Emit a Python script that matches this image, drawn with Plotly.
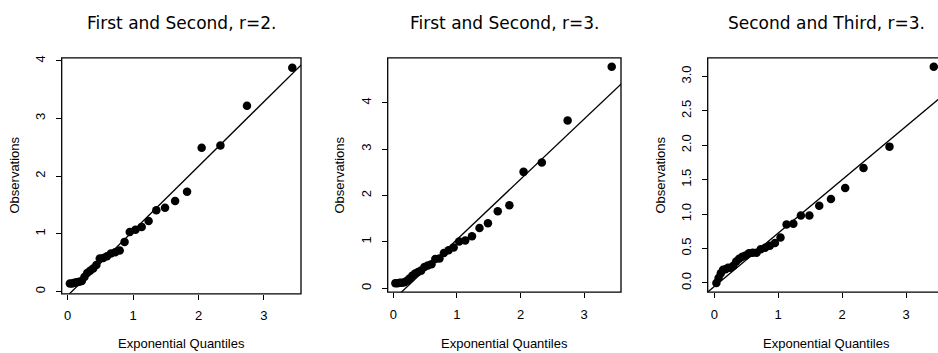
import plotly.graph_objects as go

# ---- data ----
exp_quantiles = [0.033, 0.067, 0.102, 0.138, 0.176, 0.215, 0.256, 0.298, 0.343, 0.389,
                 0.438, 0.490, 0.543, 0.601, 0.661, 0.726, 0.795, 0.869, 0.949, 1.036,
                 1.131, 1.237, 1.355, 1.488, 1.642, 1.825, 2.048, 2.335, 2.741, 3.434]

obs_first_second_r2 = [0.14, 0.14, 0.15, 0.16, 0.17, 0.18, 0.25, 0.32, 0.36, 0.40,
                       0.46, 0.57, 0.58, 0.61, 0.66, 0.68, 0.71, 0.86, 1.03, 1.07,
                       1.12, 1.22, 1.41, 1.45, 1.57, 1.73, 2.49, 2.53, 3.22, 3.88]

obs_first_second_r3 = [0.11, 0.11, 0.12, 0.12, 0.13, 0.16, 0.21, 0.27, 0.32, 0.35,
                       0.38, 0.46, 0.49, 0.52, 0.63, 0.64, 0.76, 0.82, 0.88, 1.01,
                       1.03, 1.12, 1.30, 1.40, 1.66, 1.79, 2.51, 2.71, 3.62, 4.78]

obs_second_third_r3 = [0.00, 0.07, 0.14, 0.19, 0.20, 0.22, 0.22, 0.25, 0.31, 0.35,
                       0.38, 0.40, 0.43, 0.44, 0.44, 0.49, 0.51, 0.54, 0.58, 0.66,
                       0.85, 0.86, 0.98, 0.98, 1.12, 1.22, 1.38, 1.67, 1.98, 3.14]

panel_titles = ["First and Second, r=2.", "First and Second, r=3.", "Second and Third, r=3."]
line_slopes = [1.12, 1.30, 0.776]
line_intercepts = [-0.07, -0.25, -0.053]
x_tick_vals = [0, 1, 2, 3]
y_tick_vals = [[0, 1, 2, 3, 4], [0, 1, 2, 3, 4], [0, 0.5, 1.0, 1.5, 2.0, 2.5, 3.0]]
x_label = "Exponential Quantiles"
y_label = "Observations"

series = [obs_first_second_r2, obs_first_second_r3, obs_second_third_r3]

# ---- layout geometry (pixels) ----
W, H = 938, 353
boxes = [  # left, right, top, bottom in px
    (61.7, 301.0, 55.3, 293.3),
    (387.7, 621.0, 55.3, 291.7),
    (707.7, 938.0, 55.3, 291.7),
]
x_ranges = [[-0.092, 3.567], [-0.088, 3.58], [-0.103, 3.50]]
y_ranges = [[-0.04, 4.05], [-0.086, 4.97], [-0.135, 3.27]]
ylabel_x_px = [15, 340, 661]

FONT = "Liberation Sans, Arial, sans-serif"
TITLE_FONT = "DejaVu Sans, sans-serif"

fig = go.Figure()
layout = dict(
    width=W, height=H, margin=dict(l=0, r=0, t=0, b=0),
    paper_bgcolor="white", plot_bgcolor="white", showlegend=False,
    font=dict(family=FONT, color="black"),
)
annotations = []
shapes = []

for i in range(3):
    xa = "x" if i == 0 else f"x{i+1}"
    ya = "y" if i == 0 else f"y{i+1}"
    xkey = "xaxis" if i == 0 else f"xaxis{i+1}"
    ykey = "yaxis" if i == 0 else f"yaxis{i+1}"
    l, r, t, b = boxes[i]
    xd = [l / W, min(r / W, 1.0)]
    yd = [1 - b / H, 1 - t / H]

    fig.add_trace(go.Scatter(
        x=exp_quantiles, y=series[i], mode="markers",
        marker=dict(color="black", size=8.5, line=dict(width=0)),
        xaxis=xa, yaxis=ya, hoverinfo="skip"))
    lx = [-1.0, 5.0]
    ly = [line_intercepts[i] + line_slopes[i] * v for v in lx]
    fig.add_trace(go.Scatter(
        x=lx, y=ly, mode="lines", line=dict(color="black", width=1.3),
        xaxis=xa, yaxis=ya, hoverinfo="skip"))

    layout[xkey] = dict(
        domain=xd, range=x_ranges[i], anchor=ya, tickvals=x_tick_vals,
        ticks="outside", ticklen=5, tickwidth=1, tickcolor="black",
        showgrid=False, zeroline=False, showline=False,
        tickfont=dict(size=13, family=FONT), ticklabelstandoff=5)
    yt = y_tick_vals[i]
    layout[ykey] = dict(
        domain=yd, range=y_ranges[i], anchor=xa, tickvals=yt,
        tickformat=".1f" if i == 2 else "d",
        ticks="outside", ticklen=5, tickwidth=1, tickcolor="black",
        showgrid=False, zeroline=False, showline=False, tickangle=-90,
        tickfont=dict(size=13, family=FONT), ticklabelstandoff=6)

    shapes.append(dict(type="rect", xref="paper", yref="paper",
                       x0=l / W, x1=(r + (10 if i == 2 else 0)) / W,
                       y0=1 - b / H, y1=1 - t / H,
                       line=dict(color="black", width=1.3), fillcolor="rgba(0,0,0,0)"))

    cx = (l + (r if i < 2 else 945.0)) / 2 / W
    annotations.append(dict(text=panel_titles[i], x=cx, y=1 - 20 / H,
                            xref="paper", yref="paper", showarrow=False,
                            xanchor="center", yanchor="middle",
                            font=dict(size=17, family=TITLE_FONT)))
    annotations.append(dict(text=x_label, x=cx, y=1 - 343 / H,
                            xref="paper", yref="paper", showarrow=False,
                            xanchor="center", yanchor="middle",
                            font=dict(size=13, family=FONT)))
    annotations.append(dict(text=y_label, x=ylabel_x_px[i] / W, y=1 - 174 / H,
                            xref="paper", yref="paper", showarrow=False,
                            xanchor="center", yanchor="middle", textangle=-90,
                            font=dict(size=13, family=FONT)))

layout["annotations"] = annotations
layout["shapes"] = shapes
fig.update_layout(**layout)
fig.write_html("out.html")
